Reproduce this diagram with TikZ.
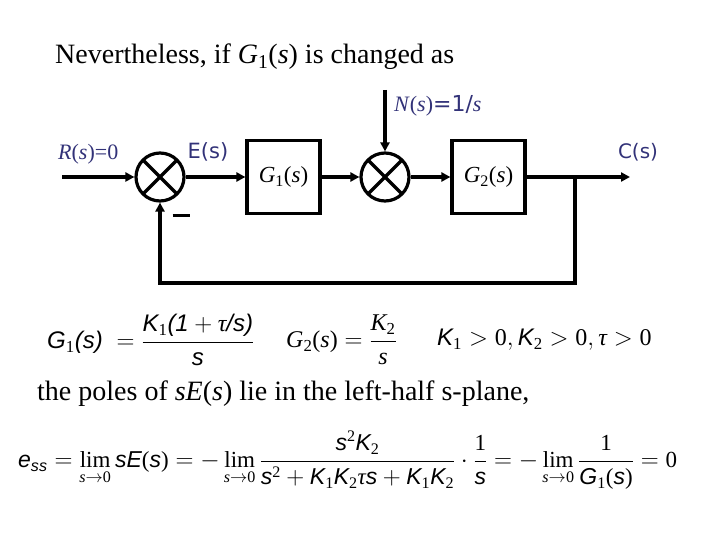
\documentclass[tikz,border=0pt]{standalone}
\usepackage{amsmath}
\usepackage{fontspec}
\setmainfont{Liberation Serif}
\setsansfont{Liberation Sans}
\newfontfamily\verd{DejaVu Sans}
\usetikzlibrary{arrows.meta}
\definecolor{labc}{RGB}{50,50,120}
\newcommand{\A}[1]{\text{\sffamily\itshape #1}}
\newcommand{\I}[1]{\text{\itshape #1}}
\newcommand{\fs}[1]{\fontsize{#1}{#1}\selectfont}
\begin{document}
\begin{tikzpicture}[x=1pt,y=-1pt,
  wire/.style={line width=3.2pt},
  arr/.style={wire,-{Triangle[length=9pt,width=9pt]}},
  block/.style={draw,line width=3.2pt,minimum width=73pt,minimum height=73pt,inner sep=0pt},
  sumnode/.style={draw,circle,line width=3.2pt,minimum size=48pt,inner sep=0pt,
    path picture={\draw[line width=3.2pt] (path picture bounding box.north west) -- (path picture bounding box.south east)
      (path picture bounding box.north east) -- (path picture bounding box.south west);}},
  lab/.style={text=labc,inner sep=0pt}]
\useasboundingbox (0,0) rectangle (720,540);

% title
\node[anchor=base west,inner sep=0pt,font=\fs{28}] (title) at (55,64)
  {Nevertheless, if $\I{G}_{\text{1}}\text{(}\I{s}\text{)}$ is changed as};

% block diagram
\node[sumnode] (s1) at (160,177) {};
\node[block] (g1) at (283.5,177) {\fs{23}$\I{G}_{\text{1}}\text{(}\I{s}\text{)}$};
\node[sumnode] (s2) at (385,177) {};
\node[block] (g2) at (488.5,177) {\fs{23}$\I{G}_{\text{2}}\text{(}\I{s}\text{)}$};

\coordinate (in) at (62,177);
\coordinate (nin) at (385,90);
\coordinate (out) at (630,177);
\coordinate (br) at (575,177);
\coordinate (bb) at (575,283);

\draw[arr] (in) -- (s1);
\draw[arr] (s1) -- (g1);
\draw[arr] (g1) -- (s2);
\draw[arr] (nin) -- (s2);
\draw[arr] (s2) -- (g2);
\draw[arr] (g2) -- (out);
\draw[arr] (br) -- (bb) -| (s1.south);

\node[inner sep=0pt] (minus) at (181,215) {\rule{17pt}{3pt}};

\node[lab,anchor=west,font=\fs{22}] (rl) at (58,154) {\textit{R}(\textit{s})=0};
\node[lab,font=\verd\fs{21}] (el) at (208,152) {E(s)};
\node[lab,font=\verd\fs{20}] (cl) at (638,152) {C(s)};
\node[lab,anchor=west,font=\fs{22}] (nl) at (394,106) {\textit{N}(\textit{s}){\verd=1/}\textit{s}};

% equations row
\node[anchor=west,inner sep=0pt,font=\fs{24}] (eq1) at (47,340)
  {$\displaystyle \A{G}_{\text{1}}\A{(s)}\; = \frac{\A{K}_{\text{1}}\A{(1} + \I{τ}\A{/s)}}{\A{s}}$};
\node[anchor=west,inner sep=0pt,font=\fs{24}] (eq2) at (286,340)
  {$\displaystyle \I{G}_{\text{2}}\text{(}\I{s}\text{)} = \frac{\I{K}_{\text{2}}}{\I{s}}$};
\node[anchor=west,inner sep=0pt,font=\fs{24}] (eq3) at (437,340)
  {$\A{K}_{\text{1}} > \text{0}, \A{K}_{\text{2}} > \text{0}, \I{τ} > \text{0}$};

\node[anchor=base west,inner sep=0pt,font=\fs{28}] (poles) at (37,400)
  {the poles of \textit{sE}(\textit{s}) lie in the left-half s-plane,};

\node[anchor=west,inner sep=0pt,font=\fs{23}] (ess) at (18,460)
  {$\displaystyle \A{e}_{\A{ss}} = \lim_{\I{s}\to\text{0}} \A{sE}\text{(}\A{s}\text{)} = -\lim_{\I{s}\to\text{0}}
   \frac{\A{s}^{\text{2}}\A{K}_{\text{2}}}{\A{s}^{\text{2}} + \A{K}_{\text{1}}\A{K}_{\text{2}}\I{τ}\A{s} + \A{K}_{\text{1}}\A{K}_{\text{2}}}
   \cdot\frac{\text{1}}{\A{s}} = -\lim_{\I{s}\to\text{0}}\frac{\text{1}}{\A{G}_{\text{1}}\text{(}\A{s}\text{)}} = \text{0}$};
\end{tikzpicture}
\end{document}
